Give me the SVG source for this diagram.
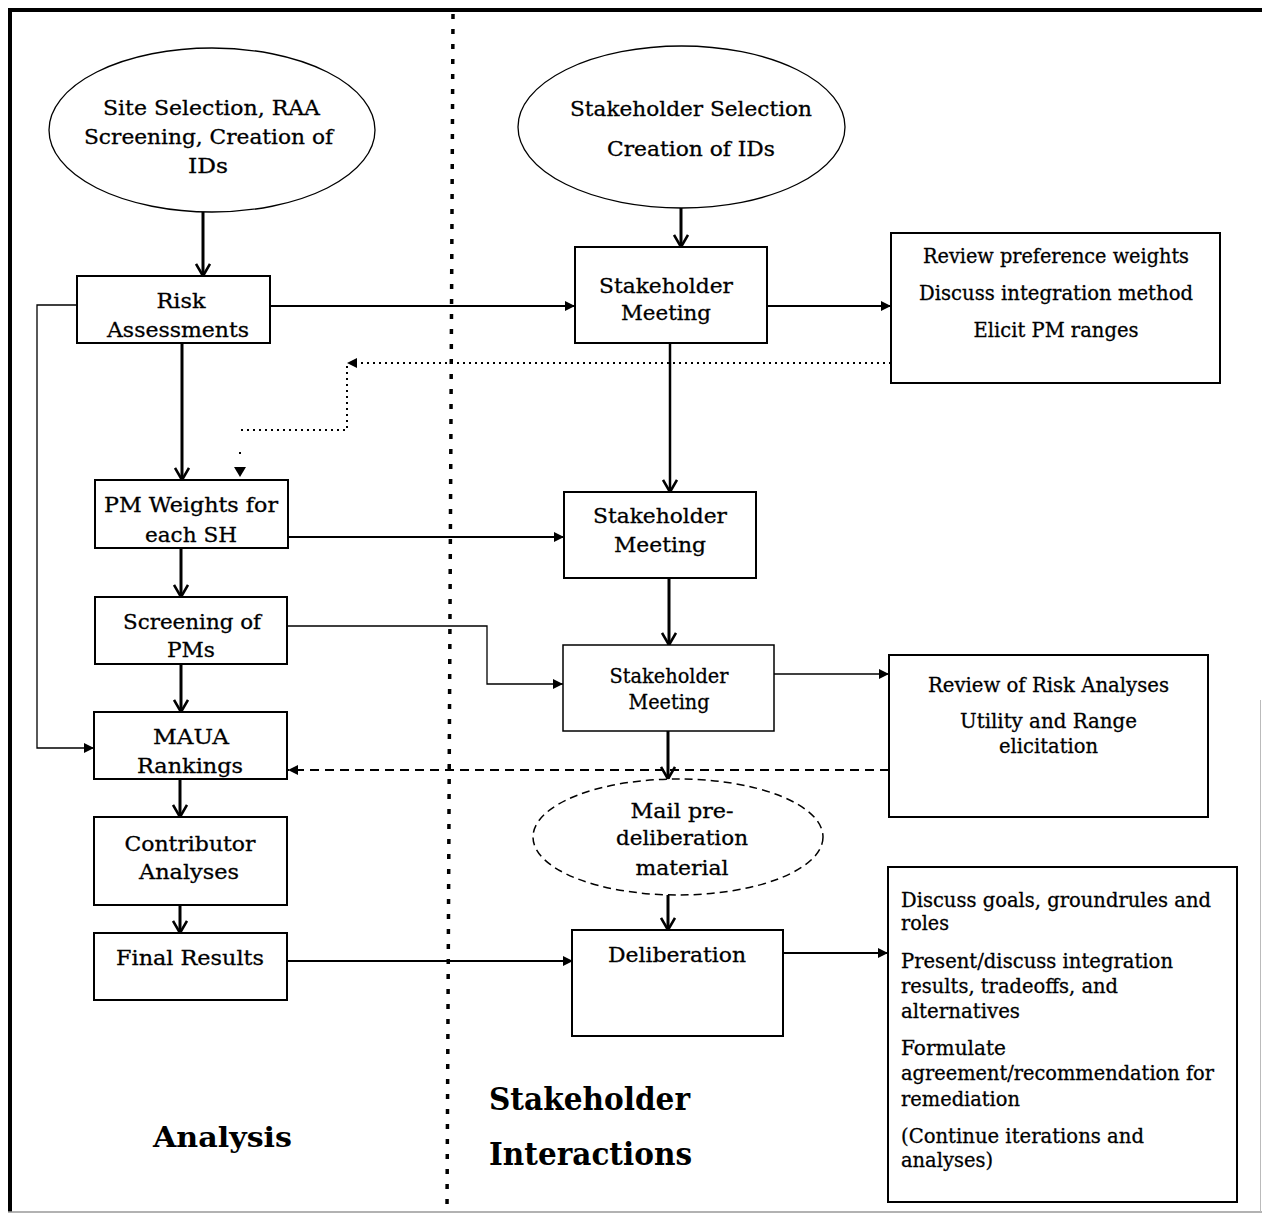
<svg xmlns="http://www.w3.org/2000/svg" width="1262" height="1215" viewBox="0 0 1262 1215">
<style>
.t{font-family:"DejaVu Serif","Liberation Serif",serif;font-size:21px;fill:#000;stroke:#000;stroke-width:0.3;text-anchor:middle}
.l{font-family:"DejaVu Serif","Liberation Serif",serif;font-size:19.5px;fill:#000;stroke:#000;stroke-width:0.3}
.b{font-family:"DejaVu Serif","Liberation Serif",serif;font-weight:bold;fill:#000}
.box{fill:#fff;stroke:#000;stroke-width:2}
.thin{fill:none;stroke:#000;stroke-width:1.3}
.med{fill:none;stroke:#000;stroke-width:2}
.thick{fill:none;stroke:#000;stroke-width:3}
</style>
<defs>
<marker id="vee" viewBox="0 0 14 16" refX="13" refY="8" markerWidth="14" markerHeight="16" markerUnits="userSpaceOnUse" orient="auto">
<polyline points="1,1 13,8 1,15" fill="none" stroke="#000" stroke-width="2.6"/>
</marker>
<marker id="tri" viewBox="0 0 10 10" refX="10" refY="5" markerWidth="10" markerHeight="10" markerUnits="userSpaceOnUse" orient="auto">
<path d="M0,0 L10,5 L0,10 z" fill="#000"/>
</marker>
</defs>
<rect width="1262" height="1215" fill="#fff"/>
<g id="frame">
<line x1="8" y1="10" x2="1262" y2="10" stroke="#000" stroke-width="4"/>
<line x1="10" y1="8" x2="10" y2="1212" stroke="#000" stroke-width="4"/>
<line x1="8" y1="1212" x2="1262" y2="1212" stroke="#999" stroke-width="1.5"/>
<line x1="1260.5" y1="700" x2="1260.5" y2="1212" stroke="#bbb" stroke-width="1"/>
<line x1="453" y1="14" x2="447" y2="1212" stroke="#000" stroke-width="3.5" stroke-dasharray="5 10"/>
</g>
<g id="connectors">
<line class="thick" x1="203" y1="212" x2="203" y2="276" marker-end="url(#vee)"/>
<line class="thick" x1="681" y1="208" x2="681" y2="247" marker-end="url(#vee)"/>
<line class="med" x1="270" y1="306" x2="575" y2="306" marker-end="url(#tri)"/>
<line class="med" x1="767" y1="306" x2="891" y2="306" marker-end="url(#tri)"/>
<line x1="891" y1="363" x2="347" y2="363" stroke="#000" stroke-width="2" stroke-dasharray="2 4" marker-end="url(#tri)"/>
<polyline points="347,366 347,430 240,430" fill="none" stroke="#000" stroke-width="2" stroke-dasharray="2 4"/>
<rect x="239" y="452" width="2" height="2" fill="#000"/>
<polygon points="234,467 246,467 240,477" fill="#000"/>
<line class="thick" x1="182" y1="343" x2="182" y2="480" marker-end="url(#vee)"/>
<line x1="670" y1="343" x2="670" y2="492" stroke="#000" stroke-width="2.5" marker-end="url(#vee)"/>
<line class="med" x1="288" y1="537" x2="564" y2="537" marker-end="url(#tri)"/>
<line class="thick" x1="181" y1="548" x2="181" y2="597" marker-end="url(#vee)"/>
<line class="thick" x1="669" y1="578" x2="669" y2="645" marker-end="url(#vee)"/>
<polyline class="thin" points="287,626 487,626 487,684 563,684" marker-end="url(#tri)"/>
<line class="thick" x1="181" y1="664" x2="181" y2="712" marker-end="url(#vee)"/>
<polyline class="thin" points="77,305 37,305 37,748 94,748" marker-end="url(#tri)"/>
<line x1="774" y1="674" x2="889" y2="674" stroke="#000" stroke-width="1.6" marker-end="url(#tri)"/>
<line class="thick" x1="668" y1="731" x2="668" y2="779" marker-end="url(#vee)"/>
<line x1="889" y1="770" x2="288" y2="770" stroke="#000" stroke-width="2" stroke-dasharray="9 6" marker-end="url(#tri)"/>
<line class="thick" x1="180" y1="779" x2="180" y2="817" marker-end="url(#vee)"/>
<line class="thick" x1="180" y1="905" x2="180" y2="933" marker-end="url(#vee)"/>
<line class="med" x1="287" y1="961" x2="573" y2="961" marker-end="url(#tri)"/>
<line class="thick" x1="668" y1="895" x2="668" y2="930" marker-end="url(#vee)"/>
<line class="med" x1="783" y1="953" x2="888" y2="953" marker-end="url(#tri)"/>
</g>
<g id="site-selection">
<ellipse cx="212" cy="130" rx="163" ry="82" fill="#fff" stroke="#000" stroke-width="1.3"/>
<text class="t" x="211.5" y="115" textLength="217" lengthAdjust="spacingAndGlyphs">Site Selection, RAA</text>
<text class="t" x="208.5" y="144" textLength="249" lengthAdjust="spacingAndGlyphs">Screening, Creation of</text>
<text class="t" x="208" y="173" textLength="40" lengthAdjust="spacingAndGlyphs">IDs</text>
</g>
<g id="stakeholder-selection">
<ellipse cx="681.5" cy="127" rx="163.5" ry="81" fill="#fff" stroke="#000" stroke-width="1.3"/>
<text class="t" x="691" y="116" textLength="242" lengthAdjust="spacingAndGlyphs">Stakeholder Selection</text>
<text class="t" x="691" y="156" textLength="168" lengthAdjust="spacingAndGlyphs">Creation of IDs</text>
</g>
<g id="risk-assessments">
<rect class="box" x="77" y="276" width="193" height="67"/>
<text class="t" x="181" y="308" textLength="49" lengthAdjust="spacingAndGlyphs">Risk</text>
<text class="t" x="178" y="337" textLength="142" lengthAdjust="spacingAndGlyphs">Assessments</text>
</g>
<g id="sh-meeting-1">
<rect class="box" x="575" y="247" width="192" height="96"/>
<text class="t" x="666" y="293" textLength="134" lengthAdjust="spacingAndGlyphs">Stakeholder</text>
<text class="t" x="666" y="320" textLength="90" lengthAdjust="spacingAndGlyphs">Meeting</text>
</g>
<g id="review-1">
<rect class="box" x="891" y="233" width="329" height="150"/>
<text class="t" x="1056" y="263" textLength="266" lengthAdjust="spacingAndGlyphs">Review preference weights</text>
<text class="t" x="1056" y="300" textLength="274" lengthAdjust="spacingAndGlyphs">Discuss integration method</text>
<text class="t" x="1056" y="337" textLength="165" lengthAdjust="spacingAndGlyphs">Elicit PM ranges</text>
</g>
<g id="pm-weights">
<rect class="box" x="95" y="480" width="193" height="68"/>
<text class="t" x="191" y="512" textLength="174" lengthAdjust="spacingAndGlyphs">PM Weights for</text>
<text class="t" x="191" y="542" textLength="92" lengthAdjust="spacingAndGlyphs">each SH</text>
</g>
<g id="sh-meeting-2">
<rect class="box" x="564" y="492" width="192" height="86"/>
<text class="t" x="660" y="523" textLength="134" lengthAdjust="spacingAndGlyphs">Stakeholder</text>
<text class="t" x="660" y="552" textLength="92" lengthAdjust="spacingAndGlyphs">Meeting</text>
</g>
<g id="screening">
<rect class="box" x="95" y="597" width="192" height="67"/>
<text class="t" x="192" y="629" textLength="138" lengthAdjust="spacingAndGlyphs">Screening of</text>
<text class="t" x="191" y="657" textLength="48" lengthAdjust="spacingAndGlyphs">PMs</text>
</g>
<g id="sh-meeting-3">
<rect x="563" y="645" width="211" height="86" fill="#fff" stroke="#000" stroke-width="1.5"/>
<text class="t" x="669" y="683" font-size="18.5" textLength="119" lengthAdjust="spacingAndGlyphs">Stakeholder</text>
<text class="t" x="669" y="709" font-size="18.5" textLength="81" lengthAdjust="spacingAndGlyphs">Meeting</text>
</g>
<g id="review-2">
<rect class="box" x="889" y="655" width="319" height="162"/>
<text class="t" x="1048.5" y="692" textLength="241" lengthAdjust="spacingAndGlyphs">Review of Risk Analyses</text>
<text class="t" x="1048.5" y="728" textLength="177" lengthAdjust="spacingAndGlyphs">Utility and Range</text>
<text class="t" x="1048.5" y="753" textLength="99" lengthAdjust="spacingAndGlyphs">elicitation</text>
</g>
<g id="maua">
<rect class="box" x="94" y="712" width="193" height="67"/>
<text class="t" x="191" y="744" textLength="76" lengthAdjust="spacingAndGlyphs">MAUA</text>
<text class="t" x="190" y="773" textLength="106" lengthAdjust="spacingAndGlyphs">Rankings</text>
</g>
<g id="mail">
<ellipse cx="678" cy="837" rx="145" ry="58" fill="#fff" stroke="#000" stroke-width="1.5" stroke-dasharray="8 5"/>
<text class="t" x="682" y="818" textLength="103" lengthAdjust="spacingAndGlyphs">Mail pre-</text>
<text class="t" x="682" y="845" textLength="132" lengthAdjust="spacingAndGlyphs">deliberation</text>
<text class="t" x="682" y="875" textLength="93" lengthAdjust="spacingAndGlyphs">material</text>
</g>
<g id="contributor">
<rect class="box" x="94" y="817" width="193" height="88"/>
<text class="t" x="190" y="851" textLength="131" lengthAdjust="spacingAndGlyphs">Contributor</text>
<text class="t" x="189" y="879" textLength="100" lengthAdjust="spacingAndGlyphs">Analyses</text>
</g>
<g id="final-results">
<rect class="box" x="94" y="933" width="193" height="67"/>
<text class="t" x="190" y="965" textLength="148" lengthAdjust="spacingAndGlyphs">Final Results</text>
</g>
<g id="deliberation">
<rect class="box" x="572" y="930" width="211" height="106"/>
<text class="t" x="677" y="962" textLength="138" lengthAdjust="spacingAndGlyphs">Deliberation</text>
</g>
<g id="review-3">
<rect class="box" x="888" y="867" width="349" height="335"/>
<text class="l" x="901" y="907" textLength="310" lengthAdjust="spacingAndGlyphs">Discuss goals, groundrules and</text>
<text class="l" x="901" y="930" textLength="48" lengthAdjust="spacingAndGlyphs">roles</text>
<text class="l" x="901" y="968" textLength="272" lengthAdjust="spacingAndGlyphs">Present/discuss integration</text>
<text class="l" x="901" y="993" textLength="217" lengthAdjust="spacingAndGlyphs">results, tradeoffs, and</text>
<text class="l" x="901" y="1018" textLength="119" lengthAdjust="spacingAndGlyphs">alternatives</text>
<text class="l" x="901" y="1055" textLength="105" lengthAdjust="spacingAndGlyphs">Formulate</text>
<text class="l" x="901" y="1080" textLength="313" lengthAdjust="spacingAndGlyphs">agreement/recommendation for</text>
<text class="l" x="901" y="1106" textLength="119" lengthAdjust="spacingAndGlyphs">remediation</text>
<text class="l" x="901" y="1143" textLength="243" lengthAdjust="spacingAndGlyphs">(Continue iterations and</text>
<text class="l" x="901" y="1167" textLength="92" lengthAdjust="spacingAndGlyphs">analyses)</text>
</g>
<g id="labels">
<text class="b" x="153" y="1147" font-size="28" textLength="139" lengthAdjust="spacingAndGlyphs">Analysis</text>
<text class="b" x="489" y="1110" font-size="31" textLength="201" lengthAdjust="spacingAndGlyphs">Stakeholder</text>
<text class="b" x="489" y="1165" font-size="31" textLength="203" lengthAdjust="spacingAndGlyphs">Interactions</text>
</g>
</svg>
